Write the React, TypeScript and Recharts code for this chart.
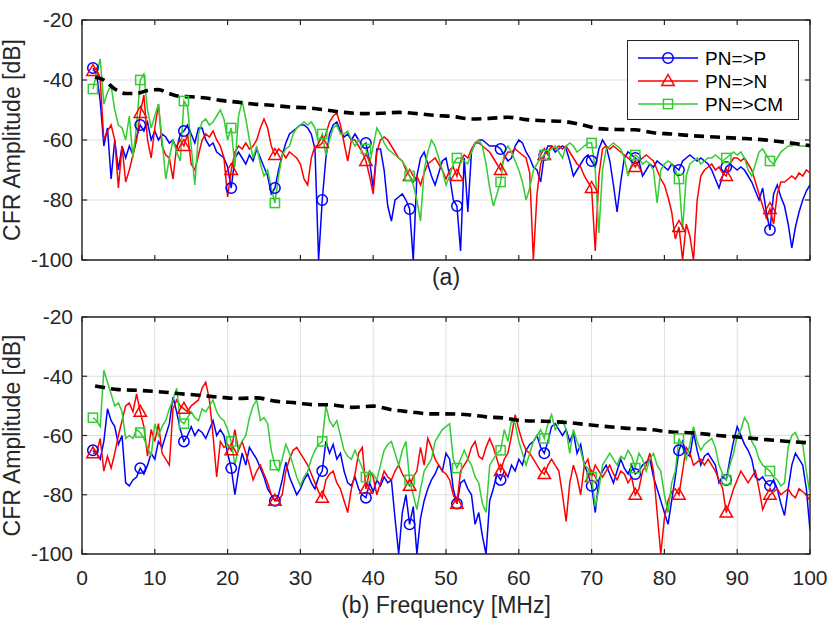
import React from 'react'
import { LineChart, Line, XAxis, YAxis, CartesianGrid, Legend, ReferenceArea, ReferenceLine } from 'recharts'

// sampling grid 1.5 .. 100 MHz, 0.5 MHz step
const freq = Array.from({ length: 198 }, (_, i) => 1.5 + i * 0.5)
const markerFreqs = [1.5, 8, 14, 20.5, 26.5, 33, 39, 45, 51.5, 57.5, 63.5, 70, 76, 82, 88.5, 94.5]

const xTicks = [0, 10, 20, 30, 40, 50, 60, 70, 80, 90, 100]
const yTicks = [-100, -80, -60, -40, -20]

// (a)
const aToP = [
  -36, -38, -47, -62, -56, -73, -60, -70, -62, -66,
  -62, -65, -59, -55, -57, -54, -60, -57, -60, -58,
  -59, -61, -60, -63, -58, -57, -55, -58, -61, -56,
  -56, -60, -62, -61, -64, -65, -66, -69, -76, -66,
  -64, -66, -68, -65, -67, -63, -66, -69, -72, -78,
  -76, -70, -65, -61, -58, -57, -56, -55, -55, -56,
  -58, -63, -100, -80, -66, -58, -55, -54, -57, -59,
  -58, -60, -58, -60, -62, -61, -67, -76, -63, -63,
  -70, -82, -87, -80, -79, -78, -80, -83, -100, -72,
  -66, -64, -68, -72, -75, -71, -67, -66, -72, -80,
  -82, -97, -66, -84, -64, -61, -60, -60, -61, -62,
  -62, -62, -63, -65, -67, -66, -62, -60, -61, -64,
  -66, -69, -70, -74, -65, -62, -62, -64, -63, -62,
  -63, -67, -72, -70, -68, -66, -65, -67, -69, -63,
  -60, -62, -67, -75, -84, -74, -66, -64, -65, -66,
  -67, -72, -70, -68, -69, -67, -68, -69, -70, -68,
  -69, -70, -67, -66, -65, -66, -67, -66, -67, -68,
  -70, -73, -76, -72, -69, -68, -69, -70, -69, -70,
  -72, -74, -77, -80, -76, -84, -90, -78, -75, -79,
  -82, -88, -96, -89, -84, -80, -77, -75,
]
const aToN = [
  -37, -36, -40, -60, -57, -55, -60, -76, -62, -74,
  -70, -65, -60, -51, -45, -60, -66, -56, -48, -62,
  -65, -66, -73, -62, -60, -62, -58, -68, -70, -65,
  -60, -58, -59, -57, -60, -62, -66, -79, -70, -64,
  -62, -63, -61, -63, -62, -60, -56, -53, -56, -62,
  -65, -63, -64, -66, -64, -65, -66, -68, -73, -75,
  -66, -62, -62, -61, -58, -54, -52, -51, -55, -61,
  -67, -60, -60, -62, -64, -67, -72, -78, -64, -60,
  -59, -60, -62, -64, -66, -67, -70, -72, -74, -72,
  -75, -71, -68, -67, -66, -68, -70, -73, -70, -69,
  -72, -67, -65, -66, -63, -61, -61, -62, -63, -64,
  -66, -68, -70, -66, -64, -64, -63, -64, -65, -66,
  -71, -100, -78, -68, -65, -64, -62, -63, -62, -63,
  -62, -64, -66, -68, -69, -72, -74, -76, -97, -72,
  -63, -62, -63, -62, -63, -64, -65, -66, -67, -69,
  -67, -66, -65, -66, -67, -70, -73, -75, -79, -84,
  -93, -89, -100, -88, -92, -100, -80, -72, -70, -69,
  -68, -70, -69, -71, -72, -68, -66, -66, -67, -66,
  -68, -70, -74, -78, -82, -86, -83, -88, -78, -74,
  -74, -73, -72, -73, -71, -72, -70, -71,
]
const aToCM = [
  -43, -38, -33, -48, -44, -42, -50, -55, -56, -60,
  -52, -66, -55, -40, -38, -50, -56, -52, -48, -60,
  -73, -66, -60, -64, -67, -47, -49, -62, -75, -58,
  -54, -53, -55, -54, -52, -50, -53, -60, -56, -69,
  -52, -47, -53, -60, -66, -62, -68, -72, -70, -76,
  -81, -72, -65, -63, -62, -58, -56, -55, -54, -55,
  -54, -56, -61, -58, -65, -60, -56, -55, -58, -58,
  -57, -60, -62, -60, -62, -63, -68, -62, -56, -58,
  -61, -63, -64, -65, -66, -67, -69, -72, -75, -80,
  -87, -70, -64, -60, -62, -66, -70, -75, -72, -68,
  -66, -66, -67, -68, -64, -61, -60, -62, -68, -76,
  -82, -78, -74, -64, -62, -64, -67, -70, -74, -80,
  -76, -70, -68, -66, -65, -64, -63, -62, -64, -66,
  -62, -61, -62, -64, -63, -62, -61, -61, -70, -91,
  -70, -63, -62, -61, -62, -63, -66, -72, -68, -65,
  -66, -68, -67, -68, -70, -81, -70, -68, -67, -68,
  -70, -73, -90, -72, -68, -67, -66, -68, -67, -66,
  -66, -65, -66, -67, -66, -65, -64, -65, -64, -66,
  -70, -72, -68, -64, -63, -65, -67, -68, -66, -64,
  -63, -62, -62, -61, -62, -62, -62, -61,
]
const limitFreqA = [1.8, 3, 4.5, 6, 7.5, 9, 10.5, 12, 13.5, 15, 17, 19, 21, 23.5, 26, 28.5, 31, 33.5, 36, 38.5, 41, 43.5, 46, 48.5, 51, 53.5, 56, 58.5, 61, 63.5, 66, 68.5, 71, 73.5, 76, 78.5, 81, 84, 87, 90, 93, 96, 98, 100]
const limitA = [-39, -40, -43, -44.5, -44.5, -43.5, -43.2, -44.5, -45.5, -45.6, -46, -46.8, -47.3, -48, -48.4, -49, -49.3, -50, -50.8, -51.2, -51.1, -50.8, -51.2, -51.8, -52.2, -53, -52.8, -52.4, -53.2, -53.6, -53.8, -54.8, -56.2, -56.5, -56.6, -57.6, -58, -58.6, -59, -59.4, -59.8, -60.6, -61.2, -61.9]

// (b)
const bToP = [
  -65, -66, -68, -62, -51, -55, -57, -63, -60, -76,
  -77, -75, -74, -71, -73, -70, -66, -68, -62, -64,
  -60, -56, -47, -52, -58, -62, -60, -57, -60, -58,
  -59, -61, -58, -55, -60, -58, -60, -66, -71, -80,
  -72, -66, -70, -64, -66, -68, -71, -74, -78, -80,
  -82, -80, -75, -69, -74, -77, -80, -78, -75, -73,
  -76, -78, -74, -72, -62, -66, -63, -68, -66, -72,
  -76, -77, -74, -78, -80, -81, -76, -79, -75, -77,
  -74, -76, -75, -88, -100, -86, -80, -90, -84, -100,
  -88, -82, -78, -75, -73, -70, -72, -66, -68, -78,
  -83, -76, -75, -78, -80, -90, -86, -94, -100, -82,
  -78, -73, -75, -72, -74, -70, -72, -68, -70, -65,
  -63, -62, -60, -64, -66, -62, -57, -56, -58, -60,
  -58, -62, -59, -66, -63, -70, -73, -77, -86, -75,
  -72, -70, -73, -76, -72, -68, -71, -73, -70, -73,
  -72, -70, -69, -68, -74, -78, -82, -86, -90, -82,
  -74, -65, -62, -66, -67, -59, -65, -70, -67, -66,
  -68, -70, -76, -74, -75, -68, -62, -57, -60, -63,
  -65, -68, -74, -75, -74, -76, -77, -75, -78, -83,
  -87, -78, -70, -66, -68, -70, -78, -92,
]
const bToN = [
  -66, -66, -61, -72, -67, -71, -66, -60, -55, -50,
  -49, -52, -46, -52, -57, -67, -58, -62, -56, -66,
  -68, -70, -51, -48, -50, -51, -52, -50, -49, -48,
  -44, -42, -48, -60, -74, -62, -64, -63, -65, -58,
  -65, -62, -66, -70, -75, -72, -70, -73, -76, -80,
  -82, -82, -80, -72, -68, -65, -64, -66, -68, -70,
  -73, -76, -79, -81, -75, -73, -72, -76, -78, -82,
  -86, -78, -73, -66, -64, -78, -72, -74, -80, -76,
  -72, -74, -75, -72, -70, -73, -75, -77, -74, -72,
  -64, -70, -61, -64, -68, -70, -72, -73, -75, -80,
  -83, -72, -70, -68, -64, -62, -67, -68, -64, -61,
  -64, -68, -72, -68, -66, -60, -53, -58, -62, -65,
  -66, -68, -70, -72, -73, -70, -68, -70, -72, -80,
  -89, -76, -70, -74, -80, -70, -68, -74, -70, -72,
  -74, -72, -70, -73, -75, -72, -73, -76, -74, -80,
  -78, -72, -70, -66, -72, -86, -100, -88, -82, -79,
  -78, -80, -72, -64, -66, -70, -69, -68, -70, -68,
  -70, -72, -75, -78, -86, -82, -78, -75, -72, -74,
  -76, -74, -72, -78, -85, -82, -80, -79, -78, -80,
  -79, -78, -80, -81, -78, -79, -80, -82,
]
const bToCM = [
  -54, -55, -57, -38, -42, -46, -50, -49, -52, -61,
  -60, -61, -58, -59, -61, -64, -67, -56, -60, -57,
  -55, -51, -48, -44, -55, -56, -54, -52, -54, -55,
  -51, -52, -50, -48, -52, -54, -55, -58, -62, -70,
  -64, -62, -60, -54, -50, -48, -55, -54, -56, -65,
  -70, -72, -68, -63, -66, -70, -74, -77, -74, -72,
  -68, -65, -63, -62, -50, -55, -57, -55, -60, -65,
  -67, -68, -65, -68, -71, -74, -72, -73, -75, -70,
  -65, -63, -62, -66, -70, -65, -62, -75, -80, -85,
  -78, -72, -70, -68, -62, -60, -58, -57, -56, -68,
  -71, -68, -65, -68, -70, -74, -76, -83, -86, -70,
  -68, -66, -65, -58, -62, -55, -56, -62, -66, -70,
  -66, -62, -60, -58, -61, -56, -53, -58, -56, -55,
  -58, -66, -58, -62, -65, -70, -71, -74, -84, -78,
  -70, -68, -66, -68, -70, -67, -68, -65, -67, -71,
  -66, -68, -72, -68, -66, -70, -72, -80, -86, -76,
  -72, -61, -64, -68, -63, -57, -62, -65, -63, -62,
  -61, -64, -70, -73, -75, -70, -66, -60, -58, -54,
  -56, -62, -64, -68, -70, -71, -72, -74, -75, -77,
  -76, -64, -60, -59, -62, -63, -72, -80,
]
const limitFreqB = [1.8, 5, 8, 11, 13.5, 16, 19, 21.5, 24, 26.5, 29.5, 32, 34, 37, 40, 42.5, 45, 48, 50, 53, 55.5, 58, 60.5, 63.5, 66.5, 70.5, 74.5, 78, 81, 84, 87, 90.5, 94, 97, 100]
const limitB = [-43.3, -44.5, -44.8, -45.3, -45.9, -46.4, -47.1, -47.5, -47.3, -48.4, -49, -49.6, -49.6, -50.5, -50.1, -51.3, -52, -52.7, -52.7, -53, -53.7, -54.1, -55, -55.2, -55.6, -56.6, -57.5, -58, -58.8, -59.1, -59.9, -60.6, -61.4, -62, -62.5]

const series = [
  { key: 'p', name: 'PN=>P', color: '#0000ff', shape: 'circle' },
  { key: 'n', name: 'PN=>N', color: '#ff0000', shape: 'triangle' },
  { key: 'cm', name: 'PN=>CM', color: '#33cc33', shape: 'square' },
]

const rowsA = freq.map((f, i) => ({ freq: f, p: aToP[i], n: aToN[i], cm: aToCM[i] }))
const rowsB = freq.map((f, i) => ({ freq: f, p: bToP[i], n: bToN[i], cm: bToCM[i] }))
const limRowsA = limitFreqA.map((f, i) => ({ freq: f, limit: limitA[i] }))
const limRowsB = limitFreqB.map((f, i) => ({ freq: f, limit: limitB[i] }))

const AXIS = '#262626'
const FONT = '"Liberation Sans", Arial, Helvetica, sans-serif'
// inward tick length, in axis units (about 5 px)
const X_TICK_LEN = 0.7
const Y_TICK_LEN = 1.7

function Marker({ cx, cy, shape, color }: any) {
  if (shape === 'circle')
    return <circle cx={cx} cy={cy} r={5.2} fill="none" stroke={color} strokeWidth={1.5} />
  if (shape === 'triangle')
    return (
      <polygon
        points={`${cx},${cy - 6.5} ${cx - 6.2},${cy + 4.5} ${cx + 6.2},${cy + 4.5}`}
        fill="none" stroke={color} strokeWidth={1.5}
      />
    )
  return <rect x={cx - 4.6} y={cy - 4.6} width={9.2} height={9.2} fill="none" stroke={color} strokeWidth={1.5} />
}

const makeDot = (shape: string, color: string) => (props: any) => {
  const { cx, cy, payload, index } = props
  if (!markerFreqs.includes(payload.freq)) return <g key={`d${index}`} />
  return (
    <g key={`d${index}`}>
      <Marker cx={cx} cy={cy} shape={shape} color={color} />
    </g>
  )
}

function LegendBox() {
  return (
    <svg width={172} height={80} style={{ display: 'block' }}>
      <rect x={0.5} y={0.5} width={171} height={79} fill="#fff" stroke={AXIS} strokeWidth={1} />
      {series.map((s, i) => {
        const y = 18 + i * 23
        return (
          <g key={s.key}>
            <line x1={11} x2={71} y1={y} y2={y} stroke={s.color} strokeWidth={1.5} />
            <Marker cx={41} cy={y} shape={s.shape} color={s.color} />
            <text x={78} y={y} dy="0.36em" fontSize={19} fill="#000" fontFamily={FONT}>{s.name}</text>
          </g>
        )
      })}
    </svg>
  )
}

const yTitle = (props: any) => {
  const vb = props.viewBox
  const cy = vb.y + vb.height / 2
  return (
    <text x={20} y={cy} transform={`rotate(-90, 20, ${cy})`} textAnchor="middle" fontSize={23} fill={AXIS}>
      CFR Amplitude [dB]
    </text>
  )
}

function Panel({ rows, limRows, height, top, bottomAxisHeight, showTicks, title, titleOffset, legend }: any) {
  return (
    <LineChart
      width={830}
      height={height}
      data={rows}
      margin={{ top, right: 20, bottom: 0, left: 0 }}
    >
      <CartesianGrid stroke="#dfdfdf" strokeWidth={1} />
      <XAxis
        dataKey="freq"
        type="number"
        domain={[0, 100]}
        ticks={xTicks}
        allowDataOverflow
        height={bottomAxisHeight}
        stroke={AXIS}
        axisLine={false}
        tickLine={false}
        tickMargin={10}
        tick={showTicks ? { fontSize: 21, fill: AXIS } : false}
        label={{ value: title, position: 'insideBottom', offset: titleOffset, fontSize: 23, fill: AXIS }}
      />
      <YAxis
        type="number"
        domain={[-100, -20]}
        ticks={yTicks}
        allowDataOverflow
        width={82}
        stroke={AXIS}
        axisLine={false}
        tickLine={false}
        tickMargin={3}
        tick={{ fontSize: 21, fill: AXIS }}
        label={yTitle}
      />
      {series.map(s => (
        <Line
          key={s.key}
          type="linear"
          dataKey={s.key}
          name={s.name}
          stroke={s.color}
          strokeWidth={1.5}
          dot={makeDot(s.shape, s.color)}
          activeDot={false}
          isAnimationActive={false}
        />
      ))}
      <Line
        data={limRows}
        type="monotone"
        dataKey="limit"
        stroke="#000"
        strokeWidth={3.6}
        strokeDasharray="10 6"
        dot={false}
        activeDot={false}
        isAnimationActive={false}
        legendType="none"
      />
      {xTicks.map(t => (
        <ReferenceLine key={`xb${t}`} segment={[{ x: t, y: -100 }, { x: t, y: -100 + Y_TICK_LEN }]}
          stroke={AXIS} strokeWidth={1.2} ifOverflow="visible" />
      ))}
      {xTicks.map(t => (
        <ReferenceLine key={`xt${t}`} segment={[{ x: t, y: -20 }, { x: t, y: -20 - Y_TICK_LEN }]}
          stroke={AXIS} strokeWidth={1.2} ifOverflow="visible" />
      ))}
      {yTicks.map(t => (
        <ReferenceLine key={`yl${t}`} segment={[{ x: 0, y: t }, { x: X_TICK_LEN, y: t }]}
          stroke={AXIS} strokeWidth={1.2} ifOverflow="visible" />
      ))}
      {yTicks.map(t => (
        <ReferenceLine key={`yr${t}`} segment={[{ x: 100, y: t }, { x: 100 - X_TICK_LEN, y: t }]}
          stroke={AXIS} strokeWidth={1.2} ifOverflow="visible" />
      ))}
      <ReferenceArea x1={0} x2={100} y1={-100} y2={-20} fill="none" fillOpacity={0}
        stroke={AXIS} strokeWidth={1.4} ifOverflow="visible" />
      {legend && (
        <Legend
          layout="vertical"
          verticalAlign="middle"
          align="center"
          content={() => <LegendBox />}
          wrapperStyle={{ position: 'absolute', left: 627, top: 40, width: 172, height: 80 }}
        />
      )}
    </LineChart>
  )
}

export default function App() {
  return (
    <div
      style={{
        position: 'absolute', left: 0, top: 0, width: 830, height: 623,
        background: '#fff', fontFamily: FONT,
      }}
    >
      <div style={{ position: 'absolute', left: 0, top: 0 }}>
        <Panel rows={rowsA} limRows={limRowsA} height={300} top={20} bottomAxisHeight={40}
          showTicks={false} title="(a)" titleOffset={15} legend />
      </div>
      <div style={{ position: 'absolute', left: 0, top: 300 }}>
        <Panel rows={rowsB} limRows={limRowsB} height={323} top={17} bottomAxisHeight={69}
          showTicks title="(b) Frequency [MHz]" titleOffset={10} legend={false} />
      </div>
    </div>
  )
}
